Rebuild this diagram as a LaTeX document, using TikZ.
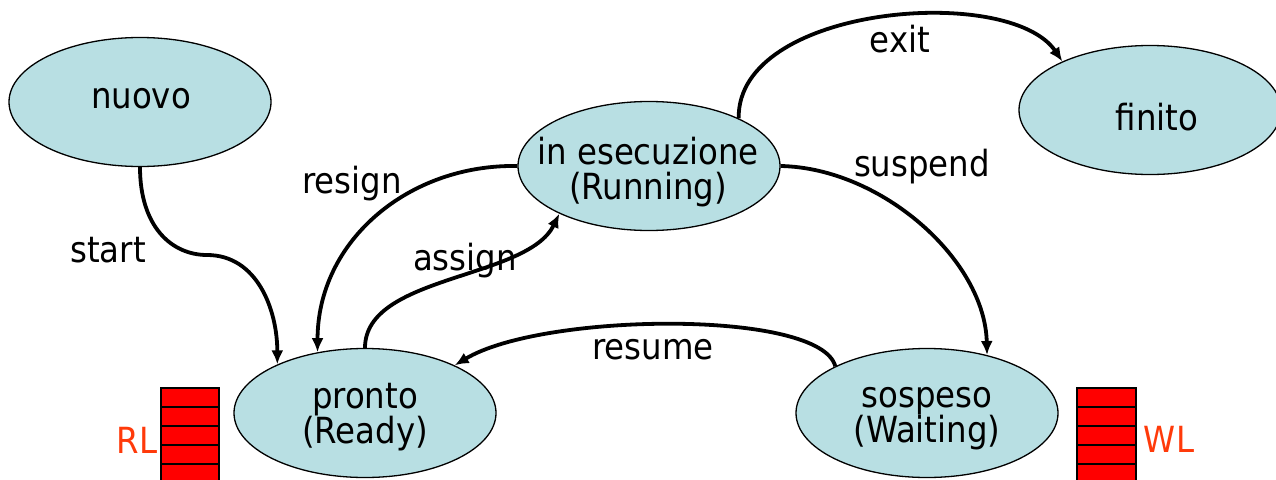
\documentclass[tikz,border=0pt]{standalone}
\usepackage{fontspec}
\setmainfont{DejaVu Sans Condensed}
\usetikzlibrary{shapes.geometric,arrows.meta}
\definecolor{statefill}{RGB}{184,223,227}
\definecolor{listred}{RGB}{255,0,0}
\definecolor{listlabel}{RGB}{255,58,10}
\tikzset{
  state/.style={ellipse,draw=black,line width=1.3pt,fill=statefill,
    minimum width=262pt,minimum height=129pt,inner sep=0pt},
  statetext/.style={align=center,inner sep=0pt,
    font=\fontsize{36}{35}\selectfont},
  edgelabel/.style={anchor=base,inner sep=0pt,font=\fontsize{36}{35}\selectfont},
  trans/.style={line width=3.8pt,-{Latex[length=14pt,width=12pt]}},
  cell/.style={draw=black,line width=1.3pt,fill=listred},
  listname/.style={anchor=base,inner sep=0pt,text=listlabel,
    font=\fontsize{36}{35}\selectfont}
}
\begin{document}
\begin{tikzpicture}[x=1pt,y=-1pt]
\useasboundingbox (0,0) rectangle (1276,479);

% process states
\node[state] (nuovo)   at (140,102) {};
\node[state] (run)     at (649,166) {};
\node[state] (finito)  at (1150,110) {};
\node[state] (pronto)  at (365,413) {};
\node[state] (sospeso) at (927,413) {};

\node[statetext] (tnuovo)   at (141,99)  {nuovo};
\node[statetext] (trun)     at (648,172) {in esecuzione\\(Running)};
\node[statetext] (tfinito)  at (1157,117) {finito};
\node[statetext] (tpronto)  at (365,417) {pronto\\(Ready)};
\node[statetext] (tsospeso) at (927,419) {sospeso\\(Waiting)};

% ready list and waiting list
\foreach \i in {0,...,4}
  \draw[cell] (161,388+19*\i) rectangle (219,407+19*\i);
\foreach \i in {0,...,4}
  \draw[cell] (1077,388+19*\i) rectangle (1136,407+19*\i);
\node[listname] (rl) at (137,453) {RL};
\node[listname] (wl) at (1169,452) {WL};

% transitions
\coordinate (startmid) at (207,255);
\draw[trans] (nuovo.south) .. controls +(0,60) and +(-35,0) .. (startmid)
  .. controls +(50,0) and +(0,-55) .. (pronto.151);
\draw[trans] (run.west) .. controls +(-108,-2) and +(0,-112) .. (pronto.128);
\draw[trans] (pronto.north) .. controls +(0,-73) and +(-32,66) .. (run.208);
\draw[trans] (run.28) .. controls +(-2,-113) and +(-53,-78) .. (finito.151);
\draw[trans] (run.east) .. controls +(101,2) and +(-2,-95) .. (sospeso.44);
\draw[trans] (sospeso.153) .. controls +(-15,-57) and +(88,-53) .. (pronto.28);

% transition labels
\node[edgelabel] (lstart)   at (108,262) {start};
\node[edgelabel] (lresign)  at (352,193) {resign};
\node[edgelabel] (lassign)  at (465,270) {assign};
\node[edgelabel] (lexit)    at (900,52)  {exit};
\node[edgelabel] (lsuspend) at (922,176) {suspend};
\node[edgelabel] (lresume)  at (653,359) {resume};
\end{tikzpicture}
\end{document}
